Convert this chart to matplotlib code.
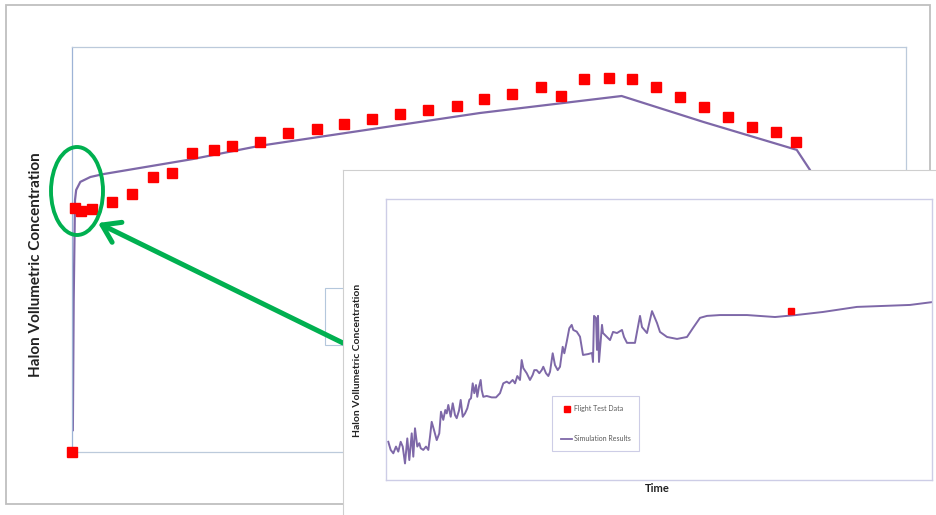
import matplotlib
matplotlib.use("Agg")
import matplotlib.pyplot as plt
from matplotlib.patches import Rectangle, Ellipse, FancyArrowPatch
from matplotlib.lines import Line2D

plt.rcParams['font.family'] = ['Lato', 'DejaVu Sans']

# ---- main chart data (arbitrary units, no ticks shown) ----
flight_t = [0, 0.4, 1.1, 2.4, 4.8, 7.2, 9.7, 12.0, 14.4, 17.0, 19.2, 22.5, 25.9, 29.4,
            32.6, 36.0, 39.3, 42.7, 46.2, 49.4, 52.8, 56.2, 58.6, 61.4, 64.4, 67.1,
            70.0, 72.9, 75.8, 78.7, 81.5, 84.4, 86.8]
flight_c = [0, 60.2, 59.5, 60.0, 61.7, 63.7, 67.9, 68.9, 73.8, 74.6, 75.6, 76.5, 78.8, 79.8,
            81.0, 82.2, 83.5, 84.4, 85.4, 87.2, 88.4, 90.1, 87.9, 92.1, 92.3, 92.1,
            90.1, 87.7, 85.2, 82.7, 80.2, 79.0, 76.5]

sim_t = [0.1, 0.2, 0.36, 0.5, 1.0, 2.2, 3.7, 14.4, 22.5, 48.9, 65.9, 75.7, 86.9, 88.5, 92.1]
sim_c = [5.4, 37.5, 62.2, 64.7, 66.7, 67.9, 68.6, 72.3, 75.6, 83.7, 87.9, 81.5, 74.6, 69.6, 52.3]

# ---- zoomed-in inset data ----
inset_t = [0.42, 0.86, 1.34, 1.83, 2.25, 2.69, 3.06, 3.48, 3.90, 4.27,
           4.71, 5.00, 5.31, 5.73, 6.10, 6.36, 6.83, 7.33, 7.75, 8.06,
           8.37, 8.79, 9.29, 9.76, 10.07, 10.49, 10.86, 11.12, 11.41, 11.85,
           12.22, 12.64, 12.95, 13.37, 13.68, 14.05, 14.47, 14.89, 15.26, 15.57,
           15.88, 16.17, 16.48, 16.72, 17.03, 17.34, 17.53, 17.82, 18.44, 19.36,
           20.15, 20.88, 21.48, 22.11, 22.58, 23.20, 23.63, 24.05, 24.54, 24.85,
           25.15, 25.77, 26.37, 26.87, 27.16, 27.60, 28.08, 28.52, 28.81, 29.30,
           29.73, 30.04, 30.53, 30.95, 31.45, 31.87, 32.36, 32.66, 33.10, 33.57,
           34.01, 34.30, 34.93, 35.53,
           36.08, 36.99, 37.73, 37.91, 38.10, 38.46, 38.64, 38.83, 39.01, 39.56,
           39.74, 41.03, 41.58, 42.31, 43.22, 43.59, 44.14, 45.60, 45.97, 46.52,
           46.89, 47.80, 48.72, 49.63, 50.18, 51.47, 53.30, 55.13, 56.23, 57.51,
           58.79, 61.17, 66.12, 71.25, 75.09, 80.04, 86.26, 95.97, 100]
inset_c = [13.6, 10.7, 9.5, 11.9, 10.1, 13.6, 11.9, 5.9, 14.8, 7.1,
           16.6, 8.3, 18.4, 11.9, 13.1, 11.3, 10.7, 11.9, 10.7, 15.4,
           20.7, 17.8, 14.2, 16.6, 24.3, 21.4, 24.9, 23.7, 26.7, 22.5,
           27.3, 23.1, 22.0, 24.7, 28.5, 22.5, 23.7, 25.5, 28.5, 29.1,
           34.4, 30.9, 33.8, 29.6, 33.2, 35.6, 32.0, 29.6, 29.9, 29.4,
           29.4, 30.9, 34.4, 35.0, 34.4, 35.6, 34.4, 37.0, 35.6, 42.7,
           39.8, 38.0, 35.6, 37.4, 39.1, 39.1, 38.0, 39.1, 40.3, 38.0,
           37.0, 38.5, 45.1, 40.9, 39.1, 40.3, 47.4, 45.1, 49.2, 54.0,
           55.2, 53.4, 52.8, 51.0,
           44.5, 44.8, 45.2, 42.0, 58.4, 57.7, 46.3, 58.4, 42.0, 55.2,
           52.3, 49.8, 52.7, 52.3, 53.4, 50.9, 48.8, 48.8, 52.7, 58.4,
           54.4, 52.3, 60.1, 55.9, 52.7, 50.9, 50.2, 50.9, 54.1, 57.7,
           58.4, 58.7, 58.7, 58.0, 58.7, 59.8, 61.6, 62.3, 63.3]
inset_flight_t = [74.1]
inset_flight_c = [60.1]

ylabel = "Halon Vollumetric Concentration"
legend_labels = ["Flight Test Data", "Simulation Results"]

RED = "#FF0000"
PURPLE = "#7E68A8"
GREEN = "#00B050"

W, H = 936, 515
fig = plt.figure(figsize=(W / 100, H / 100), dpi=100)

def fx(px):
    return px / W

def fy(py):
    return 1 - py / H

# outer chart frame
fig.add_artist(Rectangle((fx(6), fy(504)), fx(930 - 6), (504 - 5) / H, fill=False,
                         edgecolor="#BFBFBF", lw=1.3, transform=fig.transFigure, zorder=0.5))

# main plot
ax = fig.add_axes([fx(72), fy(452), fx(834), 405 / H])
ax.plot(sim_t, sim_c, color=PURPLE, lw=1.6)
ax.plot(flight_t, flight_c, ls="", marker="s", ms=6.5, color=RED, mec=RED,
        clip_on=False, zorder=4)
ax.set_xlim(0, 100)
ax.set_ylim(0, 100)
ax.set_xticks([])
ax.set_yticks([])
for s in ax.spines.values():
    s.set_color("#BCCADB")
    s.set_linewidth(0.9)
ax.spines["left"].set_color("#9DB3D6")
fig.text(fx(36), fy(265), ylabel, rotation=90, ha="center", va="center",
         fontsize=11, fontweight="bold", color="#222222")

# partially hidden legend box of the main chart
fig.add_artist(Rectangle((fx(325), fy(345)), fx(40), 57 / H, fill=False,
                         edgecolor="#B4C7DC", lw=0.8, transform=fig.transFigure, zorder=1))

# green highlight and arrow
fig.add_artist(Ellipse((fx(77), fy(191)), fx(52), 88 / H, fill=False, edgecolor=GREEN,
                       lw=2.8, transform=fig.transFigure, zorder=3))
fig.add_artist(FancyArrowPatch((fx(343), fy(343)), (fx(98), fy(223)),
                               transform=fig.transFigure,
                               arrowstyle="->,head_length=0.6,head_width=0.4",
                               mutation_scale=20, color=GREEN, lw=3.6,
                               shrinkA=0, shrinkB=0, zorder=3))

# inset panel
panel = fig.add_axes([fx(343), 0, fx(936 - 343), (515 - 170) / H], zorder=5)
panel.set_xticks([])
panel.set_yticks([])
panel.spines["right"].set_visible(False)
panel.spines["bottom"].set_visible(False)
panel.spines["left"].set_color("#CFCFCF")
panel.spines["top"].set_color("#CFCFCF")

axi = fig.add_axes([fx(386), fy(480), fx(546), 281 / H], zorder=6)
axi.plot(inset_t, inset_c, color=PURPLE, lw=1.4)
axi.plot(inset_flight_t, inset_flight_c, ls="", marker="s", ms=5, color=RED)
axi.set_xlim(0, 100)
axi.set_ylim(0, 100)
axi.set_xticks([])
axi.set_yticks([])
for s in axi.spines.values():
    s.set_color("#CDCDE6")
    s.set_linewidth(1.0)

fig.text(fx(357), fy(360), ylabel, rotation=90, ha="center", va="center",
         fontsize=7.5, fontweight="bold", color="#222222", zorder=7)
fig.text(fx(657), fy(489), "Time", ha="center", va="center",
         fontsize=8, fontweight="bold", color="#222222", zorder=7)

handles = [Line2D([], [], ls="", marker="s", ms=4, color=RED),
           Line2D([], [], color=PURPLE, lw=1.3)]
leg = axi.legend(handles, legend_labels, loc="upper left",
                 bbox_to_anchor=(fx(552), fy(396)), bbox_transform=fig.transFigure,
                 fontsize=5, labelspacing=3.3, handlelength=1.6, handletextpad=0.2,
                 borderpad=1.3, borderaxespad=0, fancybox=False, framealpha=1,
                 labelcolor="#595959")
leg.get_frame().set_edgecolor("#CDCDE6")
leg.get_frame().set_linewidth(0.8)

fig.savefig("out.png", dpi=100)
